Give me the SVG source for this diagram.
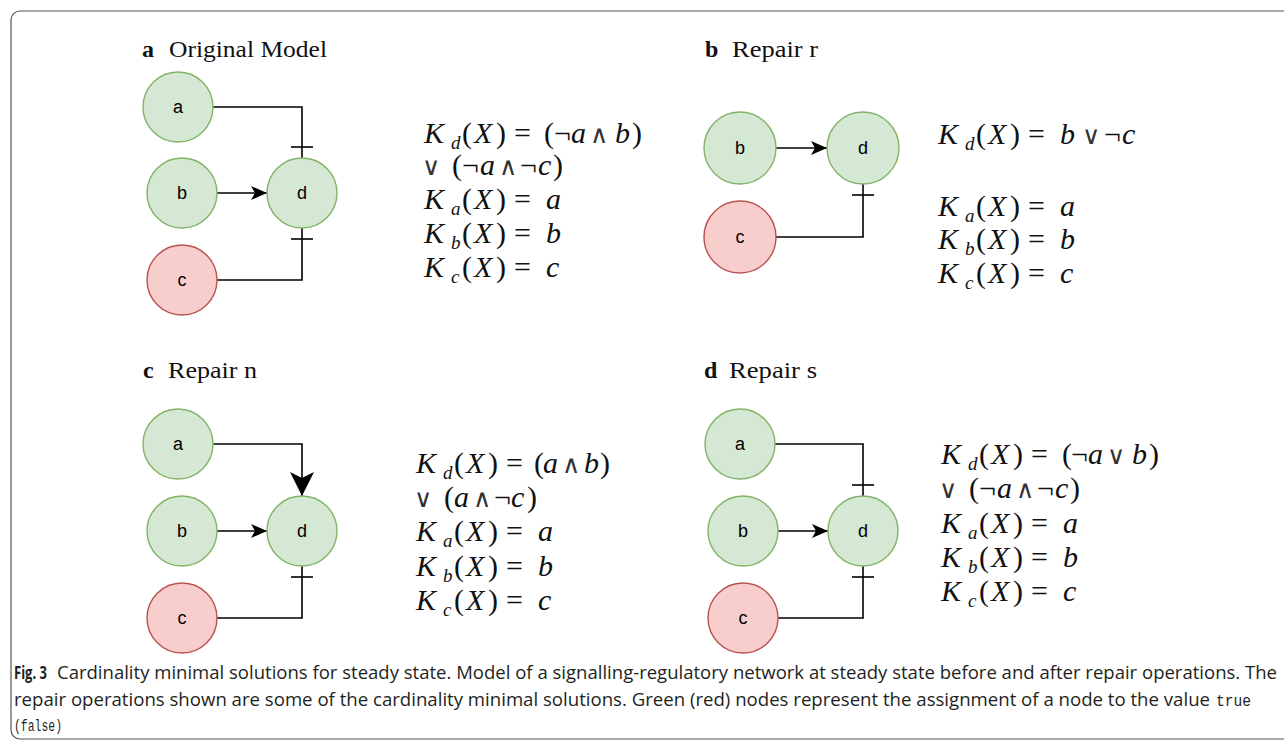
<svg xmlns="http://www.w3.org/2000/svg" width="1284" height="745" viewBox="0 0 1284 745">
<style>
.frame{fill:#fff;stroke:#555;stroke-width:1.2}
.g{fill:#d5e8d4;stroke:#82b366;stroke-width:1.4}
.r{fill:#f8cecc;stroke:#b85450;stroke-width:1.4}
.lbl{font-family:"Liberation Sans",Arial,sans-serif;font-size:18px;text-anchor:middle;fill:#000}
.e{fill:none;stroke:#000;stroke-width:1.6}
.t{font-family:"Liberation Serif","Times New Roman",serif;font-size:23px;fill:#111}
.tb{font-family:"Liberation Serif","Times New Roman",serif;font-weight:bold;font-size:24px;fill:#111}
.m{font-family:"Liberation Serif","Times New Roman",serif;font-size:30px;fill:#111}
.i{font-style:italic}
.s{font-size:19px}
.op{font-family:"DejaVu Sans",sans-serif;font-size:25px;fill:#333}
.cap{font-family:"Open Sans","Liberation Sans",sans-serif;font-size:18.5px;fill:#231f20}
.mono{font-family:"Liberation Mono","Courier New",monospace;font-size:16px;fill:#231f20}
</style>
<defs>
<marker id="arr" markerUnits="userSpaceOnUse" viewBox="0 0 16 14" markerWidth="16" markerHeight="14" refX="16" refY="7" orient="auto"><path d="M0,0 L16,7 L0,14 L4,7 Z" fill="#000"/></marker>
<marker id="arrL" markerUnits="userSpaceOnUse" viewBox="0 0 24 24" markerWidth="24" markerHeight="24" refX="24" refY="12" orient="auto"><path d="M0,0 L24,12 L0,24 L6,12 Z" fill="#000"/></marker>
<marker id="tee" markerUnits="userSpaceOnUse" viewBox="0 0 24 24" markerWidth="24" markerHeight="24" refX="23" refY="12" orient="auto"><path d="M12,1 L12,23" stroke="#000" stroke-width="1.6"/></marker>
</defs>
<rect class="frame" x="11" y="11" width="1300" height="728" rx="9"/>

<!-- Titles -->
<g id="title-a"><text class="tb" x="142" y="57">a</text><text class="t" x="169" y="57" textLength="158" lengthAdjust="spacingAndGlyphs">Original Model</text></g>
<g id="title-b"><text class="tb" x="705" y="57">b</text><text class="t" x="732" y="57" textLength="86" lengthAdjust="spacingAndGlyphs">Repair r</text></g>
<g id="title-c"><text class="tb" x="143" y="378">c</text><text class="t" x="168" y="378" textLength="89" lengthAdjust="spacingAndGlyphs">Repair n</text></g>
<g id="title-d"><text class="tb" x="704" y="378">d</text><text class="t" x="729" y="378" textLength="88" lengthAdjust="spacingAndGlyphs">Repair s</text></g>

<!-- Connectors -->
<g id="connectors">
<path class="e" d="M213,107 H302 V158" marker-end="url(#tee)"/>
<path class="e" d="M217,193 H267" marker-end="url(#arr)"/>
<path class="e" d="M217,280 H302 V228" marker-end="url(#tee)"/>

<path class="e" d="M776,148 H827" marker-end="url(#arr)"/>
<path class="e" d="M776,237 H863 V184" marker-end="url(#tee)"/>

<path class="e" d="M213,444 H302 V496" marker-end="url(#arrL)"/>
<path class="e" d="M217,531 H267" marker-end="url(#arr)"/>
<path class="e" d="M217,618 H302 V566" marker-end="url(#tee)"/>

<path class="e" d="M775,444 H863 V496" marker-end="url(#tee)"/>
<path class="e" d="M778,531 H828" marker-end="url(#arr)"/>
<path class="e" d="M778,618 H863 V566" marker-end="url(#tee)"/>
</g>

<!-- Panel a nodes -->
<g id="a-a"><circle class="g" cx="178" cy="107" r="35"/><text class="lbl" x="178" y="113">a</text></g>
<g id="a-b"><circle class="g" cx="182" cy="193" r="35"/><text class="lbl" x="182" y="199">b</text></g>
<g id="a-d"><circle class="g" cx="302" cy="193" r="35"/><text class="lbl" x="302" y="199">d</text></g>
<g id="a-c"><circle class="r" cx="182" cy="280" r="35"/><text class="lbl" x="182" y="286">c</text></g>

<!-- Panel b nodes -->
<g id="b-b"><circle class="g" cx="740" cy="148" r="36"/><text class="lbl" x="740" y="154">b</text></g>
<g id="b-d"><circle class="g" cx="863" cy="148" r="36"/><text class="lbl" x="863" y="154">d</text></g>
<g id="b-c"><circle class="r" cx="740" cy="237" r="36"/><text class="lbl" x="740" y="243">c</text></g>

<!-- Panel c nodes -->
<g id="c-a"><circle class="g" cx="178" cy="444" r="35"/><text class="lbl" x="178" y="450">a</text></g>
<g id="c-b"><circle class="g" cx="182" cy="531" r="35"/><text class="lbl" x="182" y="537">b</text></g>
<g id="c-d"><circle class="g" cx="302" cy="531" r="35"/><text class="lbl" x="302" y="537">d</text></g>
<g id="c-c"><circle class="r" cx="182" cy="618" r="35"/><text class="lbl" x="182" y="624">c</text></g>

<!-- Panel d nodes -->
<g id="d-a"><circle class="g" cx="740" cy="444" r="35"/><text class="lbl" x="740" y="450">a</text></g>
<g id="d-b"><circle class="g" cx="743" cy="531" r="35"/><text class="lbl" x="743" y="537">b</text></g>
<g id="d-d"><circle class="g" cx="863" cy="531" r="35"/><text class="lbl" x="863" y="537">d</text></g>
<g id="d-c"><circle class="r" cx="743" cy="618" r="35"/><text class="lbl" x="743" y="624">c</text></g>

<!-- Equations a -->
<g id="eq-a">
<text class="m" y="143"><tspan class="i" x="424">K</tspan><tspan class="i s" x="451" dy="6">d</tspan><tspan x="462" dy="-6">(</tspan><tspan class="i" x="474">X</tspan><tspan x="496">)</tspan><tspan x="514">=</tspan><tspan x="544">(</tspan><tspan x="554">¬</tspan><tspan class="i" x="571">a</tspan><tspan class="op" x="590">∧</tspan><tspan class="i" x="615">b</tspan><tspan x="632">)</tspan></text>
<text class="m" y="175"><tspan class="op" x="422">∨</tspan><tspan x="452">(</tspan><tspan x="462">¬</tspan><tspan class="i" x="480">a</tspan><tspan class="op" x="499">∧</tspan><tspan x="520">¬</tspan><tspan class="i" x="538">c</tspan><tspan x="553">)</tspan></text>
<text class="m" y="209"><tspan class="i" x="424">K</tspan><tspan class="i s" x="451" dy="6">a</tspan><tspan x="462" dy="-6">(</tspan><tspan class="i" x="474">X</tspan><tspan x="496">)</tspan><tspan x="514">=</tspan><tspan class="i" x="546">a</tspan></text>
<text class="m" y="243"><tspan class="i" x="424">K</tspan><tspan class="i s" x="451" dy="6">b</tspan><tspan x="462" dy="-6">(</tspan><tspan class="i" x="474">X</tspan><tspan x="496">)</tspan><tspan x="514">=</tspan><tspan class="i" x="546">b</tspan></text>
<text class="m" y="277"><tspan class="i" x="424">K</tspan><tspan class="i s" x="451" dy="6">c</tspan><tspan x="462" dy="-6">(</tspan><tspan class="i" x="474">X</tspan><tspan x="496">)</tspan><tspan x="514">=</tspan><tspan class="i" x="546">c</tspan></text>
</g>

<!-- Equations b -->
<g id="eq-b">
<text class="m" y="144"><tspan class="i" x="938">K</tspan><tspan class="i s" x="965" dy="6">d</tspan><tspan x="976" dy="-6">(</tspan><tspan class="i" x="988">X</tspan><tspan x="1010">)</tspan><tspan x="1028">=</tspan><tspan class="i" x="1060">b</tspan><tspan class="op" x="1082">∨</tspan><tspan x="1104">¬</tspan><tspan class="i" x="1122">c</tspan></text>
<text class="m" y="216"><tspan class="i" x="938">K</tspan><tspan class="i s" x="965" dy="6">a</tspan><tspan x="976" dy="-6">(</tspan><tspan class="i" x="988">X</tspan><tspan x="1010">)</tspan><tspan x="1028">=</tspan><tspan class="i" x="1060">a</tspan></text>
<text class="m" y="249"><tspan class="i" x="938">K</tspan><tspan class="i s" x="965" dy="6">b</tspan><tspan x="976" dy="-6">(</tspan><tspan class="i" x="988">X</tspan><tspan x="1010">)</tspan><tspan x="1028">=</tspan><tspan class="i" x="1060">b</tspan></text>
<text class="m" y="283"><tspan class="i" x="938">K</tspan><tspan class="i s" x="965" dy="6">c</tspan><tspan x="976" dy="-6">(</tspan><tspan class="i" x="988">X</tspan><tspan x="1010">)</tspan><tspan x="1028">=</tspan><tspan class="i" x="1060">c</tspan></text>
</g>

<!-- Equations c -->
<g id="eq-c">
<text class="m" y="473"><tspan class="i" x="416">K</tspan><tspan class="i s" x="443" dy="6">d</tspan><tspan x="454" dy="-6">(</tspan><tspan class="i" x="466">X</tspan><tspan x="488">)</tspan><tspan x="506">=</tspan><tspan x="534">(</tspan><tspan class="i" x="543">a</tspan><tspan class="op" x="562">∧</tspan><tspan class="i" x="584">b</tspan><tspan x="600">)</tspan></text>
<text class="m" y="507"><tspan class="op" x="414">∨</tspan><tspan x="444">(</tspan><tspan class="i" x="454">a</tspan><tspan class="op" x="473">∧</tspan><tspan x="494">¬</tspan><tspan class="i" x="511">c</tspan><tspan x="527">)</tspan></text>
<text class="m" y="541"><tspan class="i" x="416">K</tspan><tspan class="i s" x="443" dy="6">a</tspan><tspan x="454" dy="-6">(</tspan><tspan class="i" x="466">X</tspan><tspan x="488">)</tspan><tspan x="506">=</tspan><tspan class="i" x="538">a</tspan></text>
<text class="m" y="576"><tspan class="i" x="416">K</tspan><tspan class="i s" x="443" dy="6">b</tspan><tspan x="454" dy="-6">(</tspan><tspan class="i" x="466">X</tspan><tspan x="488">)</tspan><tspan x="506">=</tspan><tspan class="i" x="538">b</tspan></text>
<text class="m" y="610"><tspan class="i" x="416">K</tspan><tspan class="i s" x="443" dy="6">c</tspan><tspan x="454" dy="-6">(</tspan><tspan class="i" x="466">X</tspan><tspan x="488">)</tspan><tspan x="506">=</tspan><tspan class="i" x="538">c</tspan></text>
</g>

<!-- Equations d -->
<g id="eq-d">
<text class="m" y="464"><tspan class="i" x="941">K</tspan><tspan class="i s" x="968" dy="6">d</tspan><tspan x="979" dy="-6">(</tspan><tspan class="i" x="991">X</tspan><tspan x="1013">)</tspan><tspan x="1031">=</tspan><tspan x="1062">(</tspan><tspan x="1071">¬</tspan><tspan class="i" x="1088">a</tspan><tspan class="op" x="1107">∨</tspan><tspan class="i" x="1132">b</tspan><tspan x="1149">)</tspan></text>
<text class="m" y="498"><tspan class="op" x="939">∨</tspan><tspan x="969">(</tspan><tspan x="979">¬</tspan><tspan class="i" x="997">a</tspan><tspan class="op" x="1016">∧</tspan><tspan x="1037">¬</tspan><tspan class="i" x="1055">c</tspan><tspan x="1070">)</tspan></text>
<text class="m" y="533"><tspan class="i" x="941">K</tspan><tspan class="i s" x="968" dy="6">a</tspan><tspan x="979" dy="-6">(</tspan><tspan class="i" x="991">X</tspan><tspan x="1013">)</tspan><tspan x="1031">=</tspan><tspan class="i" x="1063">a</tspan></text>
<text class="m" y="567"><tspan class="i" x="941">K</tspan><tspan class="i s" x="968" dy="6">b</tspan><tspan x="979" dy="-6">(</tspan><tspan class="i" x="991">X</tspan><tspan x="1013">)</tspan><tspan x="1031">=</tspan><tspan class="i" x="1063">b</tspan></text>
<text class="m" y="601"><tspan class="i" x="941">K</tspan><tspan class="i s" x="968" dy="6">c</tspan><tspan x="979" dy="-6">(</tspan><tspan class="i" x="991">X</tspan><tspan x="1013">)</tspan><tspan x="1031">=</tspan><tspan class="i" x="1063">c</tspan></text>
</g>

<!-- Caption -->
<g id="caption">
<text class="cap" x="14" y="679" font-weight="bold" textLength="33" lengthAdjust="spacingAndGlyphs">Fig. 3</text>
<text class="cap" x="57" y="679" textLength="1220" lengthAdjust="spacingAndGlyphs">Cardinality minimal solutions for steady state. Model of a signalling-regulatory network at steady state before and after repair operations. The</text>
<text class="cap" x="14" y="706" textLength="1196" lengthAdjust="spacingAndGlyphs">repair operations shown are some of the cardinality minimal solutions. Green (red) nodes represent the assignment of a node to the value</text>
<text class="mono" x="1216" y="706" textLength="35" lengthAdjust="spacingAndGlyphs">true</text>
<text class="mono" x="14" y="731" textLength="48" lengthAdjust="spacingAndGlyphs">(false)</text>
</g>
</svg>
